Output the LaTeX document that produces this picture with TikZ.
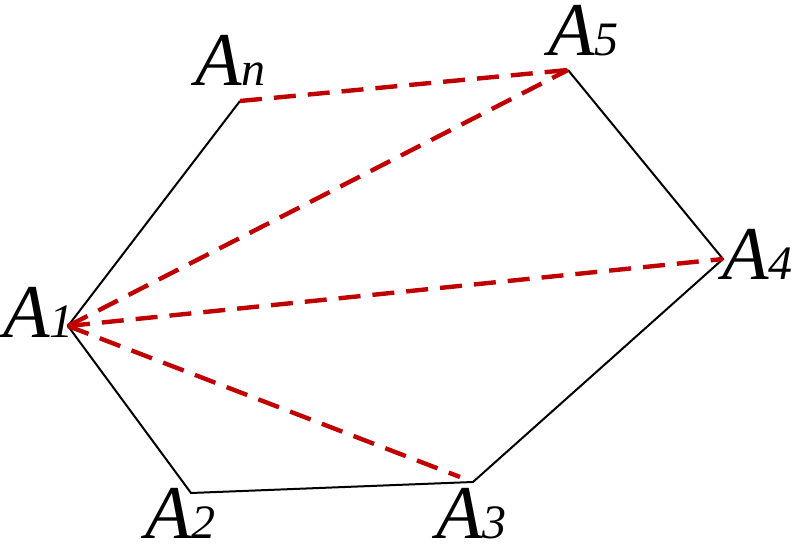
\documentclass[tikz,border=0pt]{standalone}
\usepackage{fontspec}
\setmainfont{Liberation Serif}
\begin{document}
\begin{tikzpicture}[x=0.5pt,y=-0.5pt,
  edge/.style={black,line width=1pt},
  diag/.style={color={rgb,255:red,192;green,0;blue,0},line width=2.2pt,dash pattern=on 11pt off 6pt},
  lbl/.style={anchor=base west,inner sep=0pt,font=\fontsize{38}{38}\selectfont\itshape},
  sub/.style={}]
\useasboundingbox (0,0) rectangle (800,551);
\coordinate (A1) at (68,326);
\coordinate (A2) at (191,493);
\coordinate (A3) at (473,482);
\coordinate (A4) at (723,259);
\coordinate (A5) at (568,70);
\coordinate (An) at (240,101);
\draw[edge] (An) -- (A1) -- (A2) -- (A3) -- (A4) -- (A5);
\draw[diag] (An) -- (A5);
\draw[diag] (A1) -- (A5);
\draw[diag] (A1) -- (A4);
\draw[diag,shorten >=7pt] (A1) -- (A3);
\newcommand{\lab}[1]{A{\fontsize{24}{24}\selectfont #1}}
\node[lbl] (L1) at (3,338) {\lab{1}};
\node[lbl] (L2) at (145,539) {\lab{2}};
\node[lbl] (L3) at (436,539) {\lab{3}};
\node[lbl] (L4) at (722,280) {\lab{4}};
\node[lbl] (L5) at (548,56) {\lab{5}};
\node[lbl] (Ln) at (195,86) {\lab{n}};
\end{tikzpicture}
\end{document}
